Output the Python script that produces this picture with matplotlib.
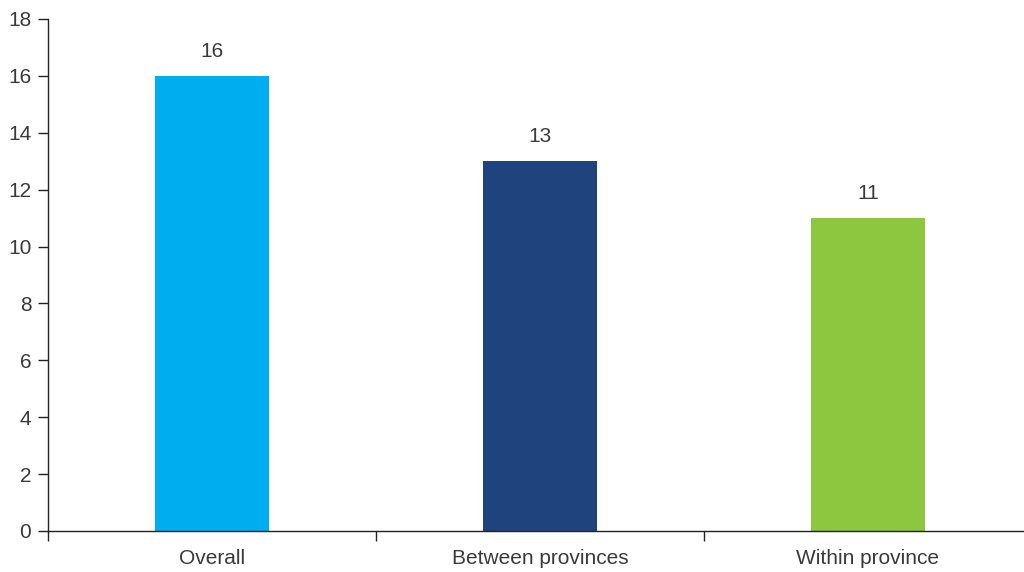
import matplotlib
matplotlib.use("Agg")
import matplotlib.pyplot as plt

categories = ["Overall", "Between provinces", "Within province"]
values = [16, 13, 11]
colors = ["#00AEEF", "#1F437D", "#8DC63F"]
y_ticks = [0, 2, 4, 6, 8, 10, 12, 14, 16, 18]

plt.rcParams["font.family"] = ["Liberation Sans", "DejaVu Sans"]
text_color = "#3a3a3a"
font_size = 15

fig = plt.figure(figsize=(10.24, 5.72), dpi=100)
W, H = 1024, 572
ax = fig.add_axes([48 / W, 41 / H, 984 / W, 512 / H])

x = list(range(len(categories)))
ax.bar(x, values, width=0.35, color=colors, zorder=2)

for xi, v in zip(x, values):
    ax.annotate(f"{v}", (xi, v), xytext=(0, 11), textcoords="offset points",
                ha="center", va="bottom", fontsize=font_size, color=text_color)

ax.set_xlim(-0.5, len(categories) - 0.5)
ax.set_ylim(0, 18)
ax.set_yticks(y_ticks)

ax.set_xticks(x)
ax.set_xticklabels(categories)
ax.set_xticks([i - 0.5 for i in range(len(categories) + 1)], minor=True)
ax.tick_params(axis="x", which="major", length=0, pad=13, labelsize=font_size,
               labelcolor=text_color)
ax.tick_params(axis="x", which="minor", length=7, width=1, color="#222222",
               direction="out")
ax.tick_params(axis="y", length=7, width=1, color="#222222", pad=5,
               labelsize=font_size, labelcolor=text_color)

for side in ("top", "right"):
    ax.spines[side].set_visible(False)
for side in ("left", "bottom"):
    ax.spines[side].set_color("#222222")
    ax.spines[side].set_linewidth(1)

fig.savefig("out.png", dpi=100)
